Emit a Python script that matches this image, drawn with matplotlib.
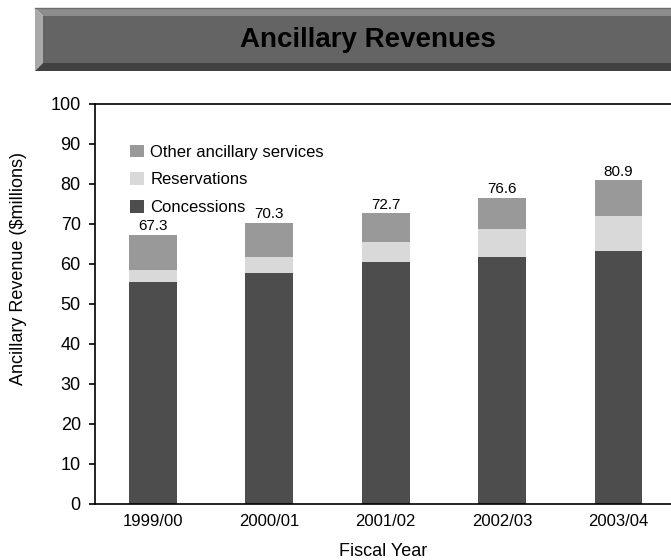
import numpy as np
import matplotlib
matplotlib.use('Agg')
import matplotlib.pyplot as plt
from matplotlib.patches import Polygon

plt.rcParams['font.family'] = ['Liberation Sans', 'DejaVu Sans']

# Data
years = ['1999/00', '2000/01', '2001/02', '2002/03', '2003/04']
concessions = [55.5, 57.7, 60.5, 61.7, 63.2]
reservations = [3.0, 4.0, 5.0, 7.0, 8.8]
other = [8.8, 8.6, 7.2, 7.9, 8.9]
totals = ['67.3', '70.3', '72.7', '76.6', '80.9']

W, H = 671, 560
fig = plt.figure(figsize=(W / 100, H / 100), dpi=100)


def px(x, y):
    # pixel coords (from top-left) -> figure fraction
    return (x / W, 1 - y / H)


# Beveled title banner
x0, x1, y0, y1, b = 35, 680, 8, 71, 8
face = Polygon([px(x0 + b, y0 + b), px(x1, y0 + b), px(x1, y1 - b), px(x0 + b, y1 - b)],
               closed=True, transform=fig.transFigure, fc='#646464', ec='none')
top = Polygon([px(x0, y0), px(x1, y0), px(x1, y0 + b), px(x0 + b, y0 + b)],
              closed=True, transform=fig.transFigure, fc='#8c8c8c', ec='none')
left = Polygon([px(x0, y0), px(x0 + b, y0 + b), px(x0 + b, y1 - b), px(x0, y1)],
               closed=True, transform=fig.transFigure, fc='#a9a9a9', ec='none')
bottom = Polygon([px(x0, y1), px(x0 + b, y1 - b), px(x1, y1 - b), px(x1, y1)],
                 closed=True, transform=fig.transFigure, fc='#414141', ec='none')
for p in (face, top, left, bottom):
    fig.patches.append(p)
fig.add_artist(plt.Line2D([x0 / W, 1], [1 - y0 / H, 1 - y0 / H], transform=fig.transFigure,
                          color='#6e6e6e', lw=1))
fig.text(368 / W, 1 - 40 / H, 'Ancillary Revenues', ha='center', va='center',
         fontsize=20, fontweight='bold', color='black')

# Chart
ax = fig.add_axes([94.7 / W, 0.1, 1 - 94.7 / W, 0.7143])
x = np.arange(len(years))
width = 0.41
bot2 = np.array(concessions) + np.array(reservations)
ax.bar(x, concessions, width, color='#4d4d4d', label='Concessions')
ax.bar(x, reservations, width, bottom=concessions, color='#d9d9d9', label='Reservations')
ax.bar(x, other, width, bottom=bot2, color='#999999', label='Other ancillary services')

for xi, top_val, lab in zip(x, bot2 + np.array(other), totals):
    ax.annotate(lab, (xi, top_val), xytext=(0, 1), textcoords='offset points',
                ha='center', va='bottom', fontsize=11)

ax.set_xlim(-0.5, 4.45)
ax.set_ylim(0, 100)
ax.set_yticks(range(0, 101, 10))
ax.set_xticks(x)
ax.set_xticklabels(years)
ax.tick_params(axis='y', direction='out', length=4, width=1.2, labelsize=13, pad=6)
ax.tick_params(axis='x', length=0, labelsize=12, pad=7)
ax.spines['right'].set_visible(False)
for s in ('left', 'top', 'bottom'):
    ax.spines[s].set_linewidth(1.2)

ax.set_xlabel('Fiscal Year', fontsize=13, labelpad=10)
ax.set_ylabel('Ancillary Revenue ($millions)', fontsize=13)
ax.yaxis.set_label_coords(-0.1175, 0.5875)

handles, labels = ax.get_legend_handles_labels()
ax.legend(handles[::-1], labels[::-1], loc='upper left', bbox_to_anchor=(0.05, 0.915),
          frameon=False, fontsize=12, handlelength=0.8, handleheight=0.8,
          handletextpad=0.4, labelspacing=0.75, borderaxespad=0)

fig.savefig('out.png', dpi=100)
